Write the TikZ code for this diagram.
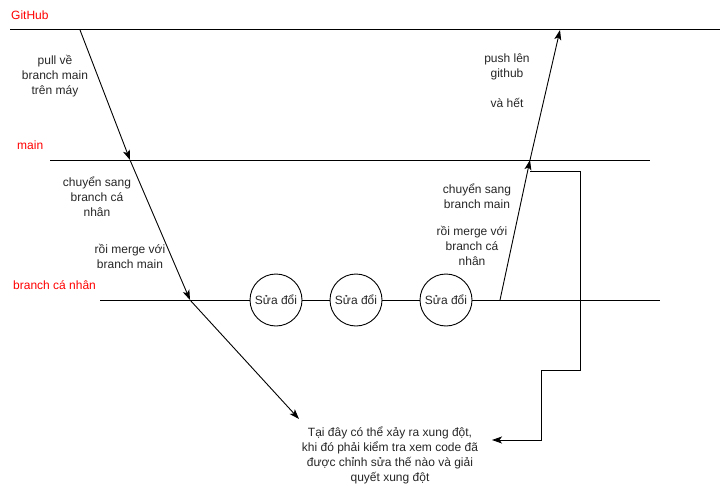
\documentclass[tikz,border=0pt]{standalone}
\usepackage{fontspec}
\setmainfont{Liberation Sans}
\usetikzlibrary{arrows.meta}
\begin{document}
\begin{tikzpicture}[x=1pt,y=-1pt,
  every node/.style={font=\fontsize{12}{15}\selectfont, inner sep=0pt},
  lane/.style={line width=1pt},
  flow/.style={line width=0.9pt, -{Stealth[length=10pt,width=7pt,inset=2.5pt]}},
  lanelabel/.style={text=red, anchor=west},
  note/.style={align=center, text=black!85},
  change/.style={circle, draw, fill=white, minimum size=52pt, line width=0.9pt, text=black!85}]
\useasboundingbox (0,0) rectangle (722,484);

% lanes
\coordinate (gh-l) at (10,30);  \coordinate (gh-r) at (720,30);
\coordinate (mn-l) at (50,160); \coordinate (mn-r) at (650,160);
\coordinate (br-l) at (100,300); \coordinate (br-r) at (660,300);
\draw[lane] (gh-l) -- (gh-r);
\draw[lane] (mn-l) -- (mn-r);
\draw[lane] (br-l) -- (br-r);

\node[lanelabel] (lbl-gh) at (11,15) {GitHub};
\node[lanelabel] (lbl-mn) at (17,145) {main};
\node[lanelabel] (lbl-br) at (13,285) {branch cá nhân};

% commits on the personal branch
\node[change] (c1) at (276,300) {Sửa đổi};
\node[change] (c2) at (356,300) {Sửa đổi};
\node[change] (c3) at (446,300) {Sửa đổi};

% flow points
\coordinate (pull-s) at (80,30);
\coordinate (pull-e) at (130,160);
\coordinate (merge-e) at (190,300);
\coordinate (conf-e) at (299,419);
\coordinate (push-s) at (500,300);
\coordinate (push-m) at (530,160);
\coordinate (push-e) at (560,30);
\coordinate (elb-s) at (530,171);
\coordinate (elb-a) at (580,370);
\coordinate (elb-b) at (541,440);
\coordinate (elb-e) at (492,440);

\draw[flow] (pull-s) -- (pull-e);
\draw[flow] (pull-e) -- (merge-e);
\draw[flow] (merge-e) -- (conf-e);
\draw[flow] (push-s) -- (push-m);
\draw[flow] (push-m) -- (push-e);
\draw[flow] (elb-s) -| (elb-a) -| (elb-b) -- (elb-e);

% notes
\node[note] (t-pull) at (55,76) {pull về\\branch main\\trên máy};
\node[note] (t-sw1) at (97,197) {chuyển sang\\branch cá\\nhân};
\node[note] (t-mg1) at (130,256) {rồi merge với\\branch main};
\node[note] (t-push) at (507,81) {push lên\\github\\[15pt]và hết};
\node[note] (t-sw2) at (477,196.5) {chuyển sang\\branch main};
\node[note] (t-mg2) at (472,246) {rồi merge với\\branch cá\\nhân};
\node[note] (t-conf) at (390,455) {Tại đây có thể xảy ra xung đột,\\khi đó phải kiểm tra xem code đã\\được chỉnh sửa thế nào và giải\\quyết xung đột};
\end{tikzpicture}
\end{document}
